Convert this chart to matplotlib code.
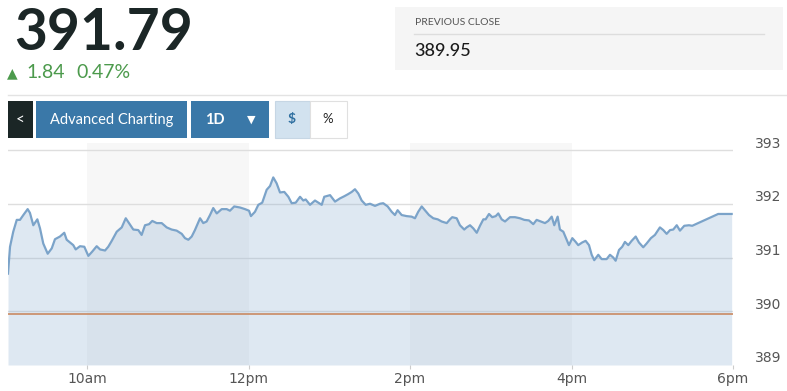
import matplotlib
matplotlib.use('Agg')
import matplotlib.pyplot as plt
from matplotlib.patches import Rectangle
from matplotlib.transforms import ScaledTranslation

# quote header values
last_price = '391.79'
change = '1.84'
change_pct = '0.47%'
prev_close = 389.95

# intraday series: minutes after 9:00, price
minutes = [1.3, 2.8, 5.2, 7.8, 10.2, 12.7, 15.9, 17.6, 20.1, 23.1, 25.1, 27.5, 30.8, 33.8,
           36.2, 39.9, 43.1, 44.9, 47.4, 49.8, 51.6, 54.8, 58.0, 61.0, 63.9, 67.2, 69.7,
           73.4, 75.8, 78.4, 82.1, 85.8, 88.8, 91.2, 94.4, 98.1, 100.6, 103.1, 106.1,
           108.5, 111.8, 115.5, 119.2, 122.9, 126.6, 130.4,
           132.8, 135.3, 137.8, 140.2, 144.0, 146.4, 148.9, 151.4, 153.8, 156.4, 160.1,
           163.8, 166.2, 169.4, 173.7, 177.4, 180.4, 181.8, 184.8, 187.3, 190.2, 193.5,
           196.0, 198.4, 200.9, 203.4, 206.6, 209.6, 212.1, 215.1, 218.3, 220.7, 222.5,
           225.7, 229.4, 231.9, 234.4, 236.3, 240.6, 244.3, 248.0, 251.2, 254.1, 256.7,
           259.1, 261.6, 264.1, 267.1, 270.3,
           274.0, 277.7, 280.1, 283.4, 286.4, 288.8, 290.8, 293.8, 297.5, 301.2, 303.7,
           306.1, 308.7, 311.1, 314.1, 317.3, 320.6, 323.5, 327.3, 329.7, 331.4, 334.7,
           337.1, 340.3, 342.1, 344.6, 347.1, 349.6, 352.0, 354.5, 356.2, 358.7, 361.1,
           363.7, 365.6, 368.1, 370.6, 374.3, 378.0, 381.7, 384.9, 388.4, 391.6, 394.1,
           397.3, 400.3,
           402.7, 405.3, 407.2, 409.7, 411.4, 413.9, 416.4, 418.1, 420.6, 423.1, 425.0,
           428.0, 430.5, 433.0, 435.0, 436.9, 439.9, 442.4, 446.1, 448.6, 451.0, 452.8,
           455.3, 457.7, 459.7, 462.2, 464.7, 467.7, 470.1, 473.3, 475.8, 479.0, 482.0,
           485.7, 488.2, 490.7, 493.2, 495.6, 498.2, 500.6, 503.8, 507.3, 509.7, 529.0,
           539.0]
prices = [390.70, 391.20, 391.48, 391.70, 391.70, 391.79, 391.90, 391.83, 391.60, 391.71,
          391.54, 391.26, 391.07, 391.17, 391.34, 391.39, 391.46, 391.33, 391.28, 391.23,
          391.15, 391.21, 391.20, 391.03, 391.11, 391.21, 391.15, 391.13, 391.20, 391.31,
          391.48, 391.56, 391.73, 391.64, 391.52, 391.51, 391.42, 391.60, 391.62, 391.68,
          391.64, 391.64, 391.56, 391.52, 391.50, 391.44,
          391.36, 391.33, 391.39, 391.51, 391.73, 391.64, 391.67, 391.79, 391.92, 391.82,
          391.90, 391.90, 391.87, 391.95, 391.93, 391.90, 391.87, 391.77, 391.85, 391.98,
          392.02, 392.26, 392.33, 392.49, 392.38, 392.21, 392.22, 392.13, 392.01, 392.02,
          392.13, 392.06, 392.08, 391.98, 392.06, 392.02, 391.98, 392.13, 392.16, 392.04,
          392.10, 392.14, 392.18, 392.22, 392.27, 392.19, 392.06, 391.98, 392.00,
          391.96, 392.00, 392.01, 391.95, 391.85, 391.79, 391.88, 391.79, 391.77, 391.76,
          391.73, 391.85, 391.95, 391.88, 391.79, 391.73, 391.71, 391.67, 391.64, 391.71,
          391.75, 391.73, 391.60, 391.52, 391.56, 391.60, 391.54, 391.46, 391.59, 391.71,
          391.71, 391.81, 391.75, 391.77, 391.82, 391.71, 391.67, 391.75, 391.75, 391.73,
          391.70, 391.69, 391.62, 391.70, 391.67, 391.64,
          391.68, 391.76, 391.60, 391.76, 391.52, 391.48, 391.33, 391.23, 391.36, 391.29,
          391.23, 391.28, 391.31, 391.23, 391.05, 390.95, 391.05, 390.97, 390.97, 391.05,
          391.00, 390.94, 391.14, 391.20, 391.29, 391.23, 391.31, 391.39, 391.28, 391.19,
          391.26, 391.36, 391.42, 391.56, 391.51, 391.44, 391.51, 391.52, 391.60, 391.50,
          391.59, 391.60, 391.59, 391.81, 391.81]

tick_minutes = [60, 180, 300, 420, 540]
tick_labels = ['10am', '12pm', '2pm', '4pm', '6pm']
band_ranges = [(60, 180), (300, 420)]
y_ticks = [389, 390, 391, 392, 393]

W, H = 787, 391


def fx(x):
    return x / W


def fy(y):
    return 1 - y / H


def box(x0, y0, x1, y1, fc, ec='none', lw=0):
    fig.patches.append(Rectangle((fx(x0), fy(y1)), (x1 - x0) / W, (y1 - y0) / H,
                                 transform=fig.transFigure, facecolor=fc,
                                 edgecolor=ec, linewidth=lw))


fig = plt.figure(figsize=(W / 100, H / 100), dpi=100)
fig.patch.set_facecolor('white')

# header
fig.text(fx(14), fy(34), last_price, fontsize=41, fontweight='bold', family='Lato',
         color='#1b2626', va='center', ha='left')
fig.text(fx(7), fy(73), '\u25b2', fontsize=10, color='#4c9a4c', va='center', ha='left',
         family='DejaVu Sans')
fig.text(fx(26), fy(73), change, fontsize=14, color='#4c9a4c', va='center', ha='left',
         family='Lato')
fig.text(fx(76), fy(73), change_pct, fontsize=14, color='#4c9a4c', va='center', ha='left',
         family='Lato')

box(395, 7, 783, 70, '#f5f5f5')
fig.text(fx(415), fy(22.5), 'PREVIOUS CLOSE', fontsize=7.5, color='#555555',
         va='center', ha='left', family='Lato')
fig.add_artist(plt.Line2D([fx(414), fx(764)], [fy(34), fy(34)], color='#dddddd', lw=1))
fig.text(fx(414), fy(51.5), f'{prev_close:.2f}', fontsize=13, color='#1b1b1b',
         va='center', ha='left', family='Lato', fontweight='medium')

fig.add_artist(plt.Line2D([fx(8), fx(787)], [fy(95), fy(95)], color='#e3e3e3', lw=1))

# button row
box(8, 101, 33, 138, '#1b2626')
fig.text(fx(20.5), fy(120), '<', fontsize=11, color='white', va='center', ha='center',
         family='Lato')
box(36, 101, 187, 138, '#3a78a8')
fig.text(fx(111.5), fy(120), 'Advanced Charting', fontsize=10.5, color='white',
         va='center', ha='center', family='Lato')
box(191, 101, 269, 138, '#3a78a8')
fig.text(fx(205), fy(120), '1D', fontsize=10.5, color='white', fontweight='bold',
         va='center', ha='left', family='Lato')
fig.text(fx(251), fy(120), '\u25bc', fontsize=8, color='white', va='center', ha='center',
         family='DejaVu Sans')
box(274.5, 101.5, 310, 137.5, '#d2e2ef', '#c6d6e4', 0.8)
fig.text(fx(292), fy(119), '$', fontsize=10, color='#2f6fa0', va='center', ha='center',
         family='Lato', fontweight='bold')
box(310, 101.5, 346.5, 137.5, 'white', '#e0e0e0', 0.8)
fig.text(fx(328), fy(119), '%', fontsize=9.5, color='#222222', va='center', ha='center',
         family='Lato')

# chart
left, right, top, bottom = 7.6, 733, 143, 365
ax = fig.add_axes([fx(left), fy(bottom), (right - left) / W, (bottom - top) / H])
ax.set_xlim(1, 540)
ax.set_ylim(389, 389 + (bottom - top) / 53.75)

for a, b in band_ranges:
    ax.axvspan(a, b, color='#f7f7f7', lw=0, zorder=0)
for v in y_ticks[1:]:
    ax.axhline(v, color='#dedede', lw=1, zorder=1)

ax.fill_between(minutes, prices, 389, color='#7fa7cf', alpha=0.25, lw=0, zorder=2)
ax.plot(minutes, prices, color='#7ba3c9', lw=1.6, zorder=3)
ax.axhline(prev_close, color='#c98a62', lw=1.2, zorder=4)

for s in ax.spines.values():
    s.set_visible(False)

ax.set_xticks(tick_minutes)
ax.set_xticklabels(tick_labels)
ax.tick_params(axis='x', length=3, width=0.8, color='#cccccc', pad=2, labelsize=10,
               labelcolor='#555555')
ax.yaxis.tick_right()
ax.set_yticks(y_ticks)
ax.set_yticklabels([str(v) for v in y_ticks])
ax.tick_params(axis='y', length=0, pad=16, labelsize=10, labelcolor='#555555')
shift = ScaledTranslation(0, 8 / 100, fig.dpi_scale_trans)
for lab in ax.get_yticklabels():
    lab.set_transform(lab.get_transform() + shift)
    lab.set_family('DejaVu Sans')
for lab in ax.get_xticklabels():
    lab.set_family('DejaVu Sans')

fig.savefig('out.png', dpi=100)
